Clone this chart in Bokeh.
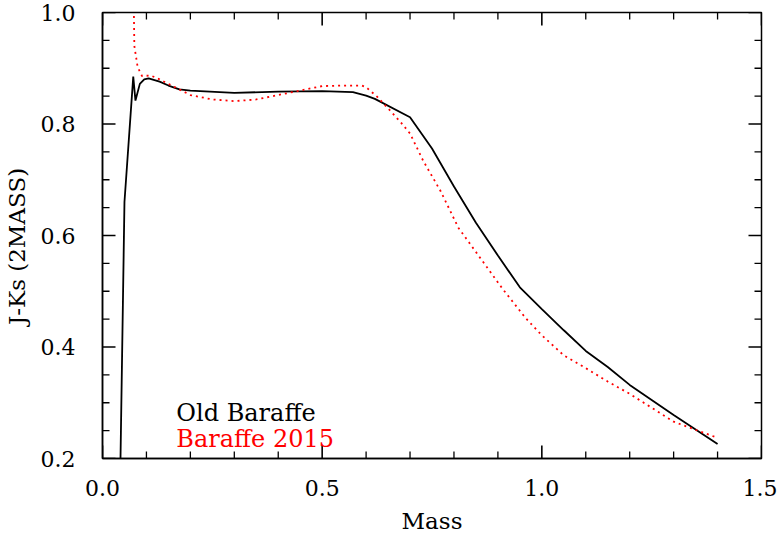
from bokeh.plotting import figure
from bokeh.models import Range1d, Label, FixedTicker
from bokeh.embed import file_html
from bokeh.resources import INLINE

# Old Baraffe models
old_mass = [0.04, 0.05, 0.07, 0.075, 0.085, 0.095, 0.105, 0.13, 0.15, 0.175,
            0.2, 0.3, 0.4, 0.5, 0.57, 0.6, 0.62, 0.7, 0.75, 0.8, 0.85, 0.9,
            0.95, 1.0, 1.05, 1.1, 1.15, 1.2, 1.3, 1.4]
old_jk = [0.15, 0.66, 0.885, 0.842, 0.872, 0.880, 0.882, 0.876, 0.869, 0.862,
          0.860, 0.856, 0.858, 0.859, 0.857, 0.851, 0.845, 0.812, 0.756, 0.688,
          0.623, 0.564, 0.507, 0.468, 0.430, 0.393, 0.364, 0.332, 0.278, 0.226]

# Baraffe 2015 models
new_mass = [0.07, 0.0725, 0.08, 0.09, 0.11, 0.13, 0.15, 0.17, 0.2, 0.25, 0.3,
            0.35, 0.4, 0.45, 0.5, 0.55, 0.59, 0.6, 0.625, 0.65, 0.68, 0.7,
            0.73, 0.77, 0.81, 0.91, 0.963, 1.0, 1.05, 1.1, 1.15, 1.2, 1.3, 1.4]
new_jk = [1.08, 0.94, 0.902, 0.886, 0.887, 0.880, 0.872, 0.864, 0.852, 0.844,
          0.841, 0.844, 0.852, 0.860, 0.868, 0.869, 0.869, 0.866, 0.849, 0.828,
          0.802, 0.783, 0.734, 0.679, 0.614, 0.505, 0.452, 0.421, 0.385, 0.362,
          0.338, 0.316, 0.266, 0.237]

x_ticks = [0.0, 0.5, 1.0, 1.5]
y_ticks = [0.2, 0.4, 0.6, 0.8, 1.0]
x_minor = [0.1, 0.2, 0.3, 0.4, 0.6, 0.7, 0.8, 0.9, 1.1, 1.2, 1.3, 1.4]
y_minor = [0.25, 0.3, 0.35, 0.45, 0.5, 0.55, 0.65, 0.7, 0.75, 0.85, 0.9, 0.95]
legend_names = ["Old Baraffe", "Baraffe 2015"]
x_title = "Mass"
y_title = "J-Ks (2MASS)"

FONT = "DejaVu Serif"
FS = "23px"
TICK_FS = "22px"
X0, X1, Y0, Y1 = 0.0, 1.5, 0.2, 1.0
FRAME_W, FRAME_H = 659, 450
TICK_COLOR = "black"

p = figure(width=777, height=536, output_backend="svg", toolbar_location=None,
           x_range=Range1d(X0, X1), y_range=Range1d(Y0, Y1),
           min_border_left=102, min_border_right=16, min_border_top=12,
           min_border_bottom=74, outline_line_color="black",
           outline_line_width=1.5)
p.grid.visible = False

p.line(old_mass, old_jk, line_color="black", line_width=1.8)
p.line(new_mass, new_jk, line_color="red", line_width=1.8, line_dash="2 4")

# inward ticks on all four sides (lengths in pixels converted to data units)
def px_x(n):
    return n * (X1 - X0) / FRAME_W

def px_y(n):
    return n * (Y1 - Y0) / FRAME_H

for ticks, ln, w in ((x_ticks, 13, 1.6), (x_minor, 7, 1.3)):
    d = px_y(ln)
    n = len(ticks)
    p.segment(x0=ticks, y0=[Y0] * n, x1=ticks, y1=[Y0 + d] * n,
              line_color=TICK_COLOR, line_width=w)
    p.segment(x0=ticks, y0=[Y1] * n, x1=ticks, y1=[Y1 - d] * n,
              line_color=TICK_COLOR, line_width=w)
for ticks, ln, w in ((y_ticks, 13, 1.6), (y_minor, 7, 1.3)):
    d = px_x(ln)
    n = len(ticks)
    p.segment(x0=[X0] * n, y0=ticks, x1=[X0 + d] * n, y1=ticks,
              line_color=TICK_COLOR, line_width=w)
    p.segment(x0=[X1] * n, y0=ticks, x1=[X1 - d] * n, y1=ticks,
              line_color=TICK_COLOR, line_width=w)

def style(ax):
    ax.axis_line_color = "black"
    ax.axis_line_width = 1.5
    ax.major_tick_in = 0
    ax.major_tick_out = 0
    ax.minor_tick_in = 0
    ax.minor_tick_out = 0
    ax.major_tick_line_color = None
    ax.minor_tick_line_color = None
    ax.major_label_text_font = FONT
    ax.major_label_text_font_size = TICK_FS
    ax.major_label_text_color = "black"
    ax.axis_label_text_font = FONT
    ax.axis_label_text_font_size = FS
    ax.axis_label_text_font_style = "normal"
    ax.axis_label_text_color = "black"

xa = p.xaxis[0]
xa.ticker = FixedTicker(ticks=x_ticks)
xa.major_label_overrides = {t: f"{t:.1f}" for t in x_ticks}
xa.axis_label = x_title
style(xa)
xa.major_label_standoff = 21
xa.axis_label_standoff = 9

ya = p.yaxis[0]
ya.ticker = FixedTicker(ticks=y_ticks)
ya.major_label_overrides = {t: f"{t:.1f}" for t in y_ticks}
ya.axis_label = y_title + "\u00a0" * 3
style(ya)
ya.major_label_standoff = 27
ya.axis_label_standoff = 8

p.add_layout(Label(x=0.168, y=0.2825, text=legend_names[0], text_align="left",
                   text_baseline="alphabetic", text_font=FONT,
                   text_font_size="24px", text_color="black"))
p.add_layout(Label(x=0.168, y=0.235, text=legend_names[1], text_align="left",
                   text_baseline="alphabetic", text_font=FONT,
                   text_font_size="24px", text_color="red"))

open("out.html", "w").write(file_html(p, INLINE))
